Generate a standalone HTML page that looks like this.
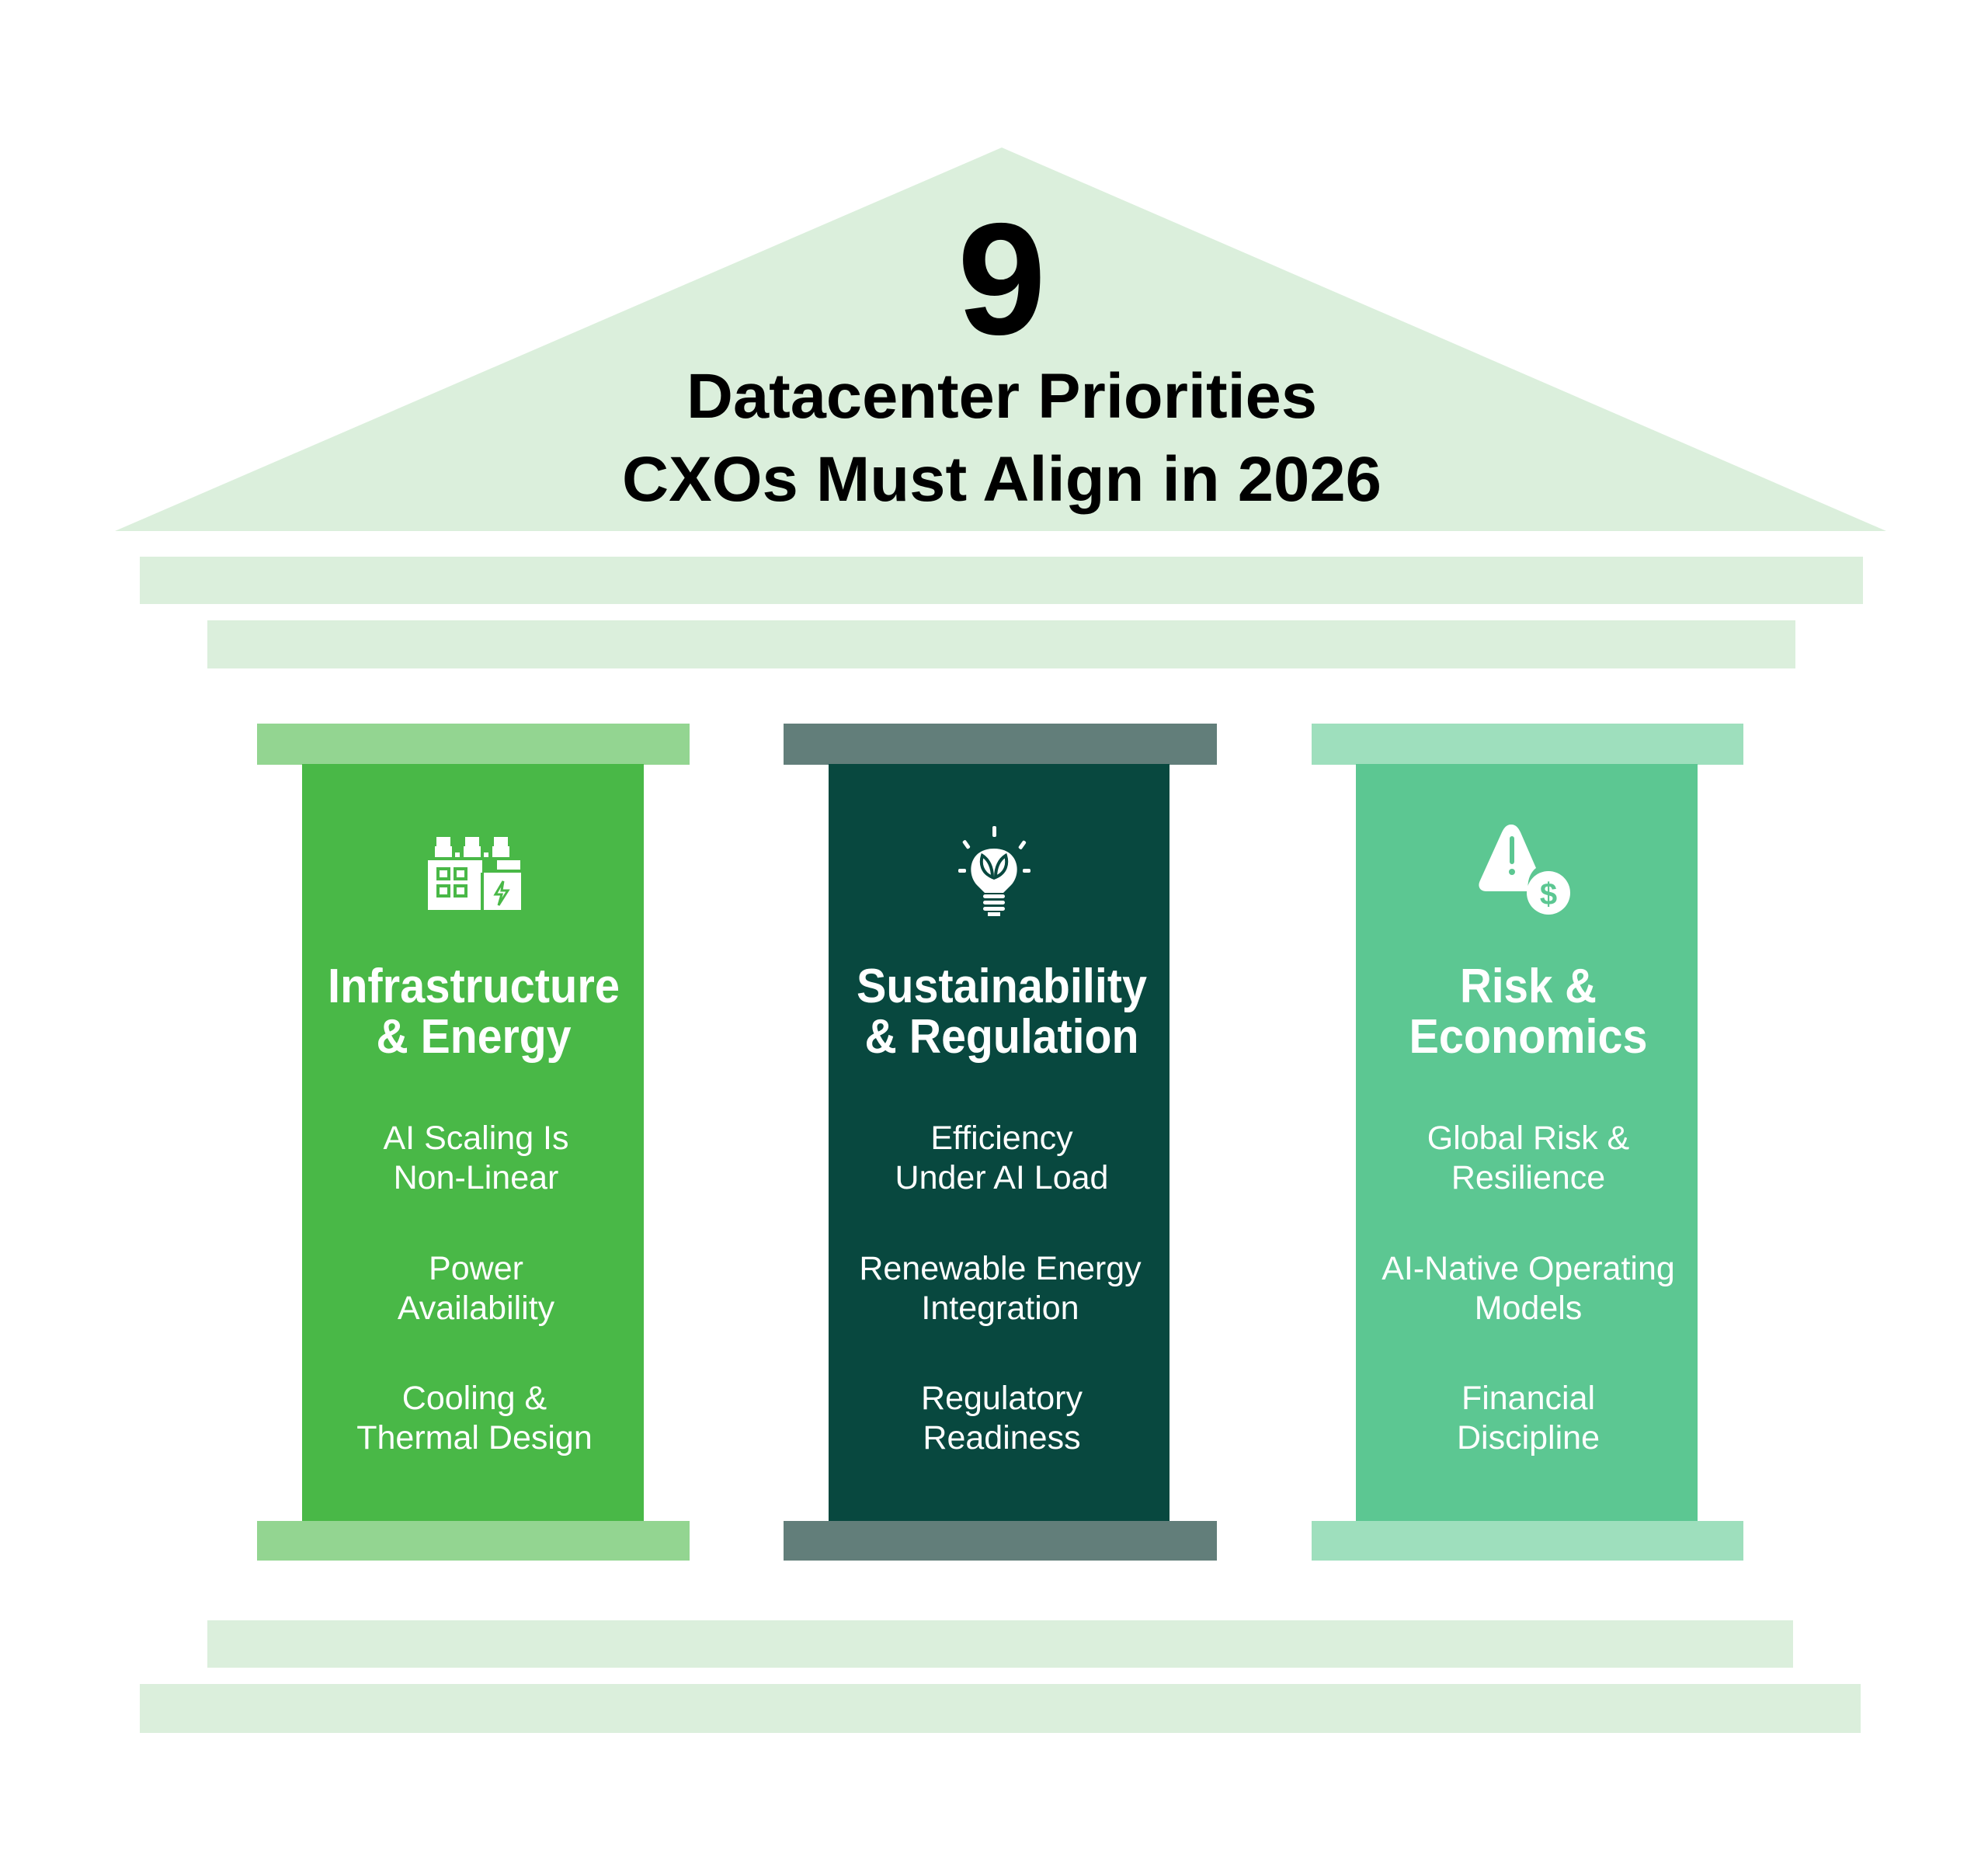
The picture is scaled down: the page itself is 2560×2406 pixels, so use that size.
<!DOCTYPE html>
<html><head><meta charset="utf-8"><style>html,body{margin:0;padding:0;background:#fff}svg{display:block}</style></head>
<body>
<svg width="2560" height="2406" viewBox="0 0 2560 2406" xmlns="http://www.w3.org/2000/svg">
<rect width="2560" height="2406" fill="#fff"/>
<polygon points="1290,190 2429,684 148,684" fill="#dbefdc"/>
<rect x="180" y="717" width="2219" height="61" fill="#dbefdc"/>
<rect x="267" y="799" width="2045" height="62" fill="#dbefdc"/>
<rect x="267" y="2087" width="2042" height="61" fill="#dbefdc"/>
<rect x="180" y="2169" width="2216" height="63" fill="#dbefdc"/>

<g font-family="Liberation Sans, Arial, sans-serif" font-weight="bold" fill="#000" text-anchor="middle">
<text x="1290" y="430" font-size="205">9</text>
<text x="1290" y="538" font-size="82" textLength="812" lengthAdjust="spacingAndGlyphs">Datacenter Priorities</text>
<text x="1290" y="645" font-size="82" textLength="978" lengthAdjust="spacingAndGlyphs">CXOs Must Align in 2026</text>
</g>

<rect x="331" y="932" width="557" height="53" fill="#93d591"/>
<rect x="389" y="984" width="440" height="976" fill="#49b847"/>
<rect x="331" y="1959" width="557" height="51" fill="#93d591"/>

<rect x="1009" y="932" width="558" height="53" fill="#627e7a"/>
<rect x="1067" y="984" width="439" height="976" fill="#08483f"/>
<rect x="1009" y="1959" width="558" height="51" fill="#627e7a"/>

<rect x="1689" y="932" width="556" height="53" fill="#9edfbd"/>
<rect x="1746" y="984" width="440" height="976" fill="#5cc792"/>
<rect x="1689" y="1959" width="556" height="51" fill="#9edfbd"/>

<!-- factory icon -->
<g fill="#fff">
<rect x="562" y="1078" width="18" height="12"/><rect x="560" y="1090" width="22" height="14"/>
<rect x="599" y="1078" width="18" height="12"/><rect x="597" y="1090" width="22" height="14"/>
<rect x="636" y="1078" width="18" height="12"/><rect x="634" y="1090" width="22" height="14"/>
<rect x="586" y="1098" width="6" height="6"/><rect x="623" y="1098" width="6" height="6"/>
<rect x="551" y="1108" width="70" height="64"/>
<rect x="640" y="1108" width="30" height="12"/>
<rect x="619" y="1124" width="52" height="48"/>
</g>
<g fill="none" stroke="#49b847" stroke-width="4">
<rect x="564" y="1119" width="14" height="13"/><rect x="586" y="1119" width="14" height="13"/>
<rect x="564" y="1141" width="14" height="13"/><rect x="586" y="1141" width="14" height="13"/>
<line x1="621" y1="1124" x2="621" y2="1172"/>
<path d="M648 1135 L638 1152 L646 1152 L642 1166 L654 1147 L646 1147 Z" stroke-width="3"/>
</g>

<!-- bulb icon -->
<g fill="#fff">
<rect x="1278" y="1064" width="5" height="14" rx="2"/>
<rect x="1242" y="1082" width="5" height="12" rx="2" transform="rotate(-35 1244 1088)"/>
<rect x="1314" y="1082" width="5" height="12" rx="2" transform="rotate(35 1316 1088)"/>
<rect x="1234" y="1119" width="10" height="5" rx="2"/><rect x="1317" y="1119" width="10" height="5" rx="2"/>
<path d="M1280 1093 C1248 1093 1244 1125 1258 1140 L1268 1150 L1292 1150 L1302 1140 C1316 1125 1312 1093 1280 1093 Z"/>
<rect x="1266" y="1152" width="28" height="5" rx="2.5"/><rect x="1266" y="1160" width="28" height="5" rx="2.5"/><rect x="1266" y="1168" width="28" height="5" rx="2.5"/><rect x="1272" y="1175" width="16" height="5"/>
</g>
<g fill="none" stroke="#08483f" stroke-width="4">
<path d="M1278 1130 C1264 1124 1262 1112 1265 1102 C1273 1107 1278 1117 1278 1130 Z"/>
<path d="M1282 1130 C1296 1124 1298 1112 1295 1102 C1287 1107 1282 1117 1282 1130 Z"/>
</g>

<!-- risk icon -->
<g fill="#fff">
<path d="M1946 1062 C1952 1062 1955 1066 1958 1072 L1978 1118 C1970 1124 1966 1136 1968 1148 L1914 1148 C1906 1148 1902 1142 1906 1134 L1934 1072 C1937 1066 1940 1062 1946 1062 Z"/>
<circle cx="1994" cy="1150" r="28"/>
</g>
<rect x="1944" y="1077" width="6" height="36" fill="#5cc792" rx="3"/>
<circle cx="1947" cy="1123" r="4" fill="#5cc792"/>
<text x="1994" y="1165" font-family="Liberation Sans, Arial, sans-serif" font-weight="bold" font-size="40" fill="#5cc792" text-anchor="middle">$</text>

<g font-family="Liberation Sans, Arial, sans-serif" fill="#fff" text-anchor="middle">
<g font-weight="bold" font-size="62">
<text x="610" y="1291" textLength="376" lengthAdjust="spacingAndGlyphs">Infrastructure</text>
<text x="610" y="1356" textLength="251" lengthAdjust="spacingAndGlyphs">&amp; Energy</text>
<text x="1290" y="1291" textLength="374" lengthAdjust="spacingAndGlyphs">Sustainability</text>
<text x="1290" y="1356" textLength="353" lengthAdjust="spacingAndGlyphs">&amp; Regulation</text>
<text x="1968" y="1291" textLength="176" lengthAdjust="spacingAndGlyphs">Risk &amp;</text>
<text x="1968" y="1356" textLength="307" lengthAdjust="spacingAndGlyphs">Economics</text>
</g>
<g font-size="43">
<text x="613" y="1480">AI Scaling Is</text><text x="613" y="1531">Non-Linear</text>
<text x="613" y="1648">Power</text><text x="613" y="1699">Availability</text>
<text x="611" y="1815">Cooling &amp;</text><text x="611" y="1866">Thermal Design</text>
<text x="1290" y="1480">Efficiency</text><text x="1290" y="1531">Under AI Load</text>
<text x="1288" y="1648">Renewable Energy</text><text x="1288" y="1699">Integration</text>
<text x="1290" y="1815">Regulatory</text><text x="1290" y="1866">Readiness</text>
<text x="1968" y="1480">Global Risk &amp;</text><text x="1968" y="1531">Resilience</text>
<text x="1968" y="1648">AI-Native Operating</text><text x="1968" y="1699">Models</text>
<text x="1968" y="1815">Financial</text><text x="1968" y="1866">Discipline</text>
</g>
</g>
</svg>
</body></html>
